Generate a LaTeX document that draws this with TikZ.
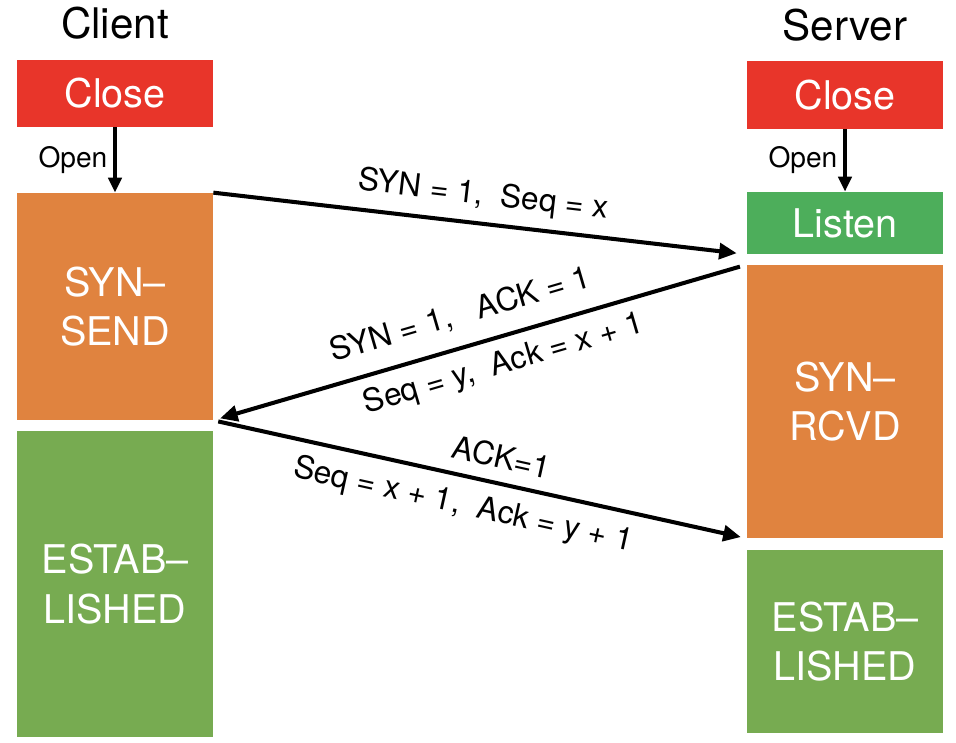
\documentclass[tikz,border=0pt]{standalone}
\usepackage{fontspec}
\setmainfont{TeX Gyre Heros}
\usetikzlibrary{positioning,arrows.meta}
\definecolor{closered}{HTML}{E8352A}
\definecolor{synorange}{HTML}{E0833F}
\definecolor{listengreen}{HTML}{4DAE5B}
\definecolor{estgreen}{HTML}{77AB51}
\tikzset{
  msgarrow/.style={-{Triangle[length=10pt,width=9pt]}, line width=2.3pt},
  openarrow/.style={-{Triangle[length=8.5pt,width=7.5pt]}, line width=2.1pt},
  statebox/.style={minimum width=3.92cm, inner sep=0pt, align=center, text=white, font=\fontsize{22.5}{28}\selectfont},
  closenode/.style={statebox, fill=closered, minimum height=1.34cm},
  listennode/.style={statebox, fill=listengreen, minimum height=1.24cm},
  synnode/.style={statebox, fill=synorange},
  estnode/.style={statebox, fill=estgreen},
  sidelabel/.style={font=\fontsize{24}{27}\selectfont},
  openlabel/.style={font=\fontsize{16}{18}\selectfont},
  msglabel/.style={font=\fontsize{18}{21}\selectfont, sloped, inner sep=1pt}
}

\begin{document}
\begin{tikzpicture}
  \useasboundingbox (0,0) rectangle (19.12,-14.84);
  % client side
  \node[sidelabel] (client) at (2.30,-0.46) {Client};
  \node[closenode] (cclose) at (2.30,-1.87) {Close};
  \node[synnode, minimum height=4.54cm] (synsend) at (2.30,-6.13) {SYN--\\SEND};
  \node[estnode, minimum height=6.12cm] (cest) at (2.30,-11.68) {ESTAB--\\LISHED};
  % server side
  \node[sidelabel] (server) at (16.90,-0.50) {Server};
  \node[closenode] (sclose) at (16.90,-1.90) {Close};
  \node[listennode] (listen) at (16.90,-4.46) {Listen};
  \node[synnode, minimum height=5.46cm] (synrcvd) at (16.90,-8.03) {SYN--\\RCVD};
  \node[estnode, minimum height=3.66cm] (sest) at (16.90,-12.83) {ESTAB--\\LISHED};

  \draw[openarrow] (cclose) -- node[left, openlabel] {Open} (synsend);
  \draw[openarrow] (sclose) -- node[left, openlabel] {Open} (listen);

  % handshake messages
  \draw[msgarrow, shorten >=0.2cm] (synsend.north east) --
    node[msglabel, above=5pt] {SYN = 1,\ \ Seq = x} (listen.south west);
  \draw[msgarrow, shorten <=0.14cm, shorten >=0.14cm] (synrcvd.north west) --
    node[msglabel, pos=0.52, above=8pt] {SYN = 1,\ \ \ ACK = 1}
    node[msglabel, pos=0.47, below=5pt] {Seq = y,\ \ Ack = x + 1} (synsend.south east);
  \draw[msgarrow, shorten <=0.1cm, shorten >=0.12cm] (synsend.south east) --
    node[msglabel, pos=0.53, above=6pt] {ACK=1}
    node[msglabel, pos=0.48, below=6pt] {Seq = x + 1,\ \ Ack = y + 1} (synrcvd.south west);
\end{tikzpicture}
\end{document}
